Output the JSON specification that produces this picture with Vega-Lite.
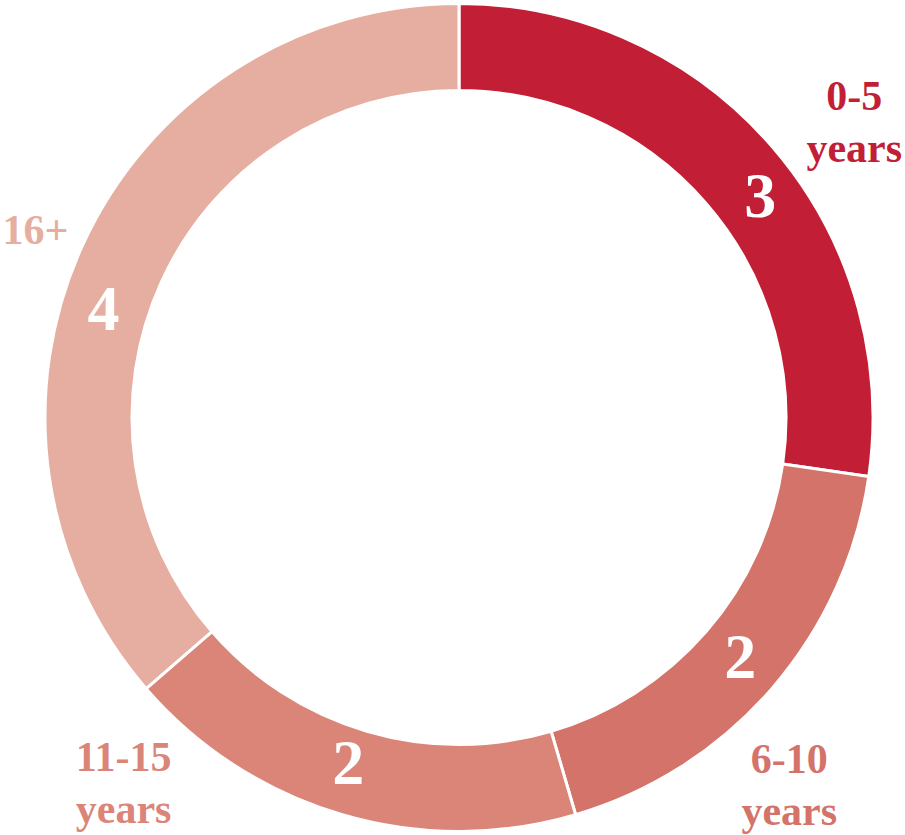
{
  "$schema": "https://vega.github.io/schema/vega-lite/v6.json",
  "width": 892,
  "height": 835,
  "autosize": {"type": "none"},
  "padding": {"left": 13, "right": 0, "top": 0, "bottom": 0},
  "background": "white",
  "config": {"view": {"stroke": null}},
  "data": {
    "values": [
      {"cat": "0-5 years", "label": "0-5\nyears", "value": 3, "rank": 1},
      {"cat": "6-10 years", "label": "6-10\nyears", "value": 2, "rank": 2},
      {"cat": "11-15 years", "label": "11-15\nyears", "value": 2, "rank": 3},
      {"cat": "16+", "label": "16+", "value": 4, "rank": 4}
    ]
  },
  "encoding": {
    "theta": {"field": "value", "type": "quantitative", "stack": true},
    "order": {"field": "rank", "type": "quantitative"},
    "detail": {"field": "cat", "type": "nominal"}
  },
  "layer": [
    {
      "mark": {"type": "arc", "outerRadius": 414, "innerRadius": 327, "stroke": "white", "strokeWidth": 3},
      "encoding": {
        "color": {
          "field": "cat", "type": "nominal", "legend": null,
          "scale": {"domain": ["0-5 years", "6-10 years", "11-15 years", "16+"], "range": ["#C21F36", "#D4736A", "#DA8578", "#E6AEA1"]}
        }
      }
    },
    {
      "mark": {"type": "text", "radius": 372, "font": "Liberation Serif", "fontWeight": "bold", "fontSize": 64, "fill": "white", "align": "center", "baseline": "alphabetic", "dx": 20, "dy": 43},
      "encoding": {"text": {"condition": {"test": "datum.cat === '0-5 years'", "field": "value", "type": "quantitative"}, "value": ""}}
    },
    {
      "mark": {"type": "text", "radius": 372, "font": "Liberation Serif", "fontWeight": "bold", "fontSize": 64, "fill": "white", "align": "center", "baseline": "alphabetic", "dx": 0, "dy": 17},
      "encoding": {"text": {"condition": {"test": "datum.cat === '6-10 years'", "field": "value", "type": "quantitative"}, "value": ""}}
    },
    {
      "mark": {"type": "text", "radius": 372, "font": "Liberation Serif", "fontWeight": "bold", "fontSize": 64, "fill": "white", "align": "center", "baseline": "alphabetic", "dx": -6, "dy": 10},
      "encoding": {"text": {"condition": {"test": "datum.cat === '11-15 years'", "field": "value", "type": "quantitative"}, "value": ""}}
    },
    {
      "mark": {"type": "text", "radius": 372, "font": "Liberation Serif", "fontWeight": "bold", "fontSize": 64, "fill": "white", "align": "center", "baseline": "alphabetic", "dx": -17, "dy": 67},
      "encoding": {"text": {"condition": {"test": "datum.cat === '16+'", "field": "value", "type": "quantitative"}, "value": ""}}
    },
    {
      "mark": {"type": "text", "radius": 470, "font": "Liberation Serif", "fontWeight": "bold", "fontSize": 42, "lineHeight": 52, "lineBreak": "\n", "fill": "#C21F36", "align": "center", "baseline": "alphabetic", "dx": 40, "dy": 0},
      "encoding": {"text": {"condition": {"test": "datum.cat === '0-5 years'", "field": "label", "type": "nominal"}, "value": ""}}
    },
    {
      "mark": {"type": "text", "radius": 470, "font": "Liberation Serif", "fontWeight": "bold", "fontSize": 42, "lineHeight": 52, "lineBreak": "\n", "fill": "#D4736A", "align": "center", "baseline": "alphabetic", "dx": -25, "dy": 48},
      "encoding": {"text": {"condition": {"test": "datum.cat === '6-10 years'", "field": "label", "type": "nominal"}, "value": ""}}
    },
    {
      "mark": {"type": "text", "radius": 470, "font": "Liberation Serif", "fontWeight": "bold", "fontSize": 42, "lineHeight": 52, "lineBreak": "\n", "fill": "#DA8578", "align": "center", "baseline": "alphabetic", "dx": -203, "dy": -97},
      "encoding": {"text": {"condition": {"test": "datum.cat === '11-15 years'", "field": "label", "type": "nominal"}, "value": ""}}
    },
    {
      "mark": {"type": "text", "radius": 470, "font": "Liberation Serif", "fontWeight": "bold", "fontSize": 42, "lineHeight": 52, "lineBreak": "\n", "fill": "#E6AEA1", "align": "center", "baseline": "alphabetic", "dx": 4, "dy": 22},
      "encoding": {"text": {"condition": {"test": "datum.cat === '16+'", "field": "label", "type": "nominal"}, "value": ""}}
    }
  ]
}
